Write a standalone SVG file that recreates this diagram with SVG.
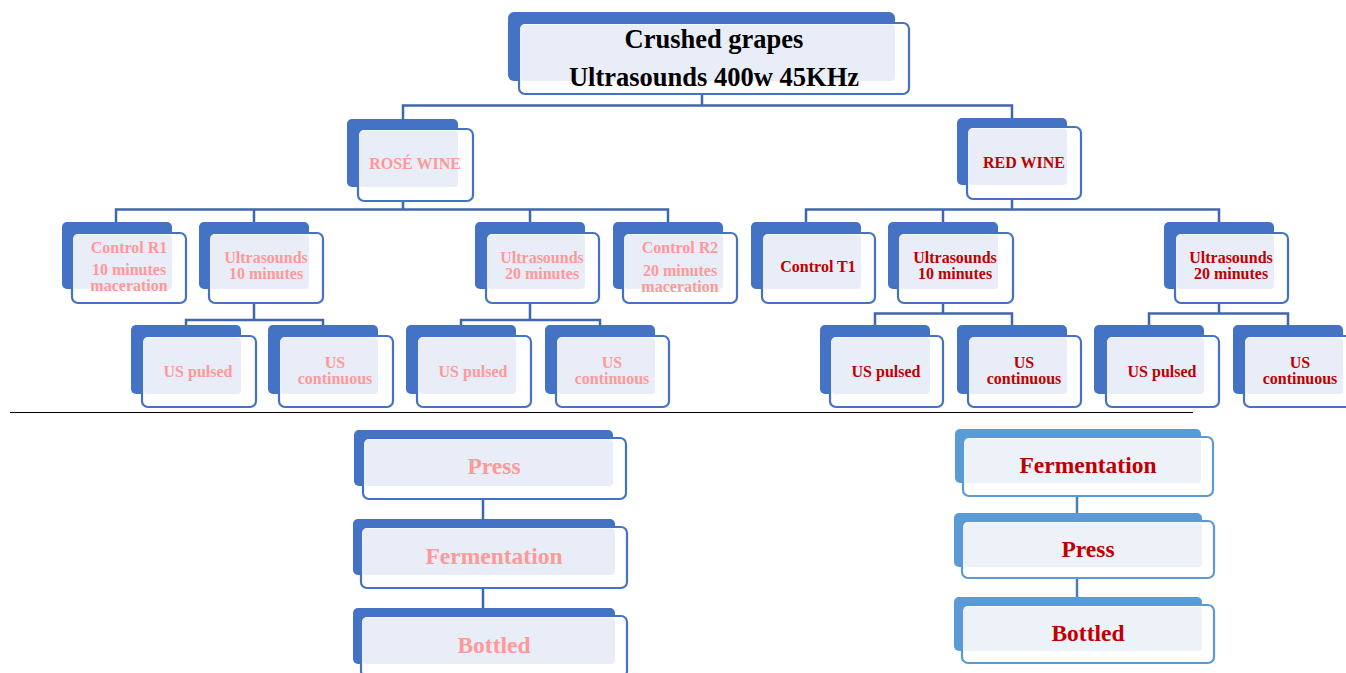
<svg xmlns="http://www.w3.org/2000/svg" width="1346" height="673" viewBox="0 0 1346 673">
<style>
.bk{fill:#4472C4}
.fr{fill:#fff;stroke:#4472C4;stroke-width:2.2}
.lt{fill:#E9EDF7}
.bk2{fill:#5B9BD5}
.fr2{fill:#fff;stroke:#5B9BD5;stroke-width:2.2}
.lt2{fill:#EDF2F9}
.t{font-family:"Liberation Serif","Times New Roman",serif;font-weight:bold;text-anchor:middle}
.s{font-size:16px}
.m{font-size:23.5px}
.l{font-size:26.5px;fill:#000}
.pk{fill:#FF9999}
.rd{fill:#C00000}
.conn path{fill:none;stroke:#3F67AE;stroke-width:2.5}
.conn path.c2{stroke:#4A7EB5}
.sep{stroke:#000;stroke-width:1}
</style>
<rect width="1346" height="673" fill="#fff"/>
<g class="conn" id="connectors">
<path d="M702 94V105.5M403 119V105.5H1012V118"/>
<path d="M403 201V209.5M116 222V209.5H668V222M254 209.5V222M530 209.5V222"/>
<path d="M1012 199V209.5M806 222V209.5H1219V222M943 209.5V222"/>
<path d="M254 303V320M186 325V320H323V325"/>
<path d="M530 303V320M461 325V320H600V325"/>
<path d="M943 303V313.5M875 325V313.5H1012V325"/>
<path d="M1219 303V313.5M1149 325V313.5H1288V325"/>
<path d="M483 499V519M483 588V608"/>
<path class="c2" d="M1077 496V513M1077 578V597"/>
</g>
<line class="sep" x1="10" y1="412.5" x2="1193" y2="412.5"/>
<g id="n-top">
<rect class="bk" x="508" y="12" width="387" height="69" rx="6"/>
<rect class="fr" x="519" y="23" width="390" height="71" rx="6"/>
<rect class="lt" x="520.5" y="24.5" width="374.5" height="56.5" rx="4"/>
<text class="t l" x="714" y="48">Crushed grapes</text>
<text class="t l" x="714" y="86">Ultrasounds 400w 45KHz</text>
</g>
<g id="n-rose">
<rect class="bk" x="347" y="119" width="111" height="68" rx="5"/>
<rect class="fr" x="358" y="129" width="115" height="72" rx="6"/>
<rect class="lt" x="359.5" y="130.5" width="98.5" height="56.5" rx="4"/>
<text class="t s pk" x="415" y="169">ROSÉ WINE</text>
</g>
<g id="n-red">
<rect class="bk" x="957" y="118" width="110" height="67" rx="5"/>
<rect class="fr" x="967" y="127" width="114" height="72" rx="6"/>
<rect class="lt" x="968.5" y="128.5" width="98.5" height="56.5" rx="4"/>
<text class="t s rd" x="1024" y="168">RED WINE</text>
</g>
<g id="n-cr1">
<rect class="bk" x="62" y="222" width="110" height="67" rx="5"/>
<rect class="fr" x="72" y="233" width="114" height="70" rx="6"/>
<rect class="lt" x="73.5" y="234.5" width="98.5" height="54.5" rx="4"/>
<text class="t s pk" x="129" y="253">Control R1</text>
<text class="t s pk" x="129" y="275">10 minutes</text>
<text class="t s pk" x="129" y="291">maceration</text>
</g>
<g id="n-u10r">
<rect class="bk" x="199" y="222" width="110" height="67" rx="5"/>
<rect class="fr" x="209" y="233" width="114" height="70" rx="6"/>
<rect class="lt" x="210.5" y="234.5" width="98.5" height="54.5" rx="4"/>
<text class="t s pk" x="266" y="263">Ultrasounds</text>
<text class="t s pk" x="266" y="279">10 minutes</text>
</g>
<g id="n-u20r">
<rect class="bk" x="475" y="222" width="110" height="67" rx="5"/>
<rect class="fr" x="486" y="233" width="113" height="70" rx="6"/>
<rect class="lt" x="487.5" y="234.5" width="97.5" height="54.5" rx="4"/>
<text class="t s pk" x="542" y="263">Ultrasounds</text>
<text class="t s pk" x="542" y="279">20 minutes</text>
</g>
<g id="n-cr2">
<rect class="bk" x="613" y="222" width="110" height="67" rx="5"/>
<rect class="fr" x="623" y="233" width="114" height="70" rx="6"/>
<rect class="lt" x="624.5" y="234.5" width="98.5" height="54.5" rx="4"/>
<text class="t s pk" x="680" y="253">Control R2</text>
<text class="t s pk" x="680" y="276">20 minutes</text>
<text class="t s pk" x="680" y="292">maceration</text>
</g>
<g id="n-ct1">
<rect class="bk" x="751" y="222" width="110" height="67" rx="5"/>
<rect class="fr" x="762" y="233" width="113" height="70" rx="6"/>
<rect class="lt" x="763.5" y="234.5" width="97.5" height="54.5" rx="4"/>
<text class="t s rd" x="818" y="272">Control T1</text>
</g>
<g id="n-u10t">
<rect class="bk" x="888" y="222" width="110" height="67" rx="5"/>
<rect class="fr" x="898" y="233" width="115" height="70" rx="6"/>
<rect class="lt" x="899.5" y="234.5" width="98.5" height="54.5" rx="4"/>
<text class="t s rd" x="955" y="263">Ultrasounds</text>
<text class="t s rd" x="955" y="279">10 minutes</text>
</g>
<g id="n-u20t">
<rect class="bk" x="1164" y="222" width="110" height="67" rx="5"/>
<rect class="fr" x="1175" y="233" width="113" height="70" rx="6"/>
<rect class="lt" x="1176.5" y="234.5" width="97.5" height="54.5" rx="4"/>
<text class="t s rd" x="1231" y="263">Ultrasounds</text>
<text class="t s rd" x="1231" y="279">20 minutes</text>
</g>
<g id="n-r1p">
<rect class="bk" x="131" y="325" width="110" height="69" rx="5"/>
<rect class="fr" x="142" y="336" width="114" height="71" rx="6"/>
<rect class="lt" x="143.5" y="337.5" width="97.5" height="56.5" rx="4"/>
<text class="t s pk" x="198" y="377">US pulsed</text>
</g>
<g id="n-r1c">
<rect class="bk" x="268" y="325" width="110" height="69" rx="5"/>
<rect class="fr" x="279" y="336" width="114" height="71" rx="6"/>
<rect class="lt" x="280.5" y="337.5" width="97.5" height="56.5" rx="4"/>
<text class="t s pk" x="335" y="368">US</text>
<text class="t s pk" x="335" y="384">continuous</text>
</g>
<g id="n-r2p">
<rect class="bk" x="406" y="325" width="110" height="69" rx="5"/>
<rect class="fr" x="417" y="336" width="114" height="71" rx="6"/>
<rect class="lt" x="418.5" y="337.5" width="97.5" height="56.5" rx="4"/>
<text class="t s pk" x="473" y="377">US pulsed</text>
</g>
<g id="n-r2c">
<rect class="bk" x="545" y="325" width="110" height="69" rx="5"/>
<rect class="fr" x="556" y="336" width="113" height="71" rx="6"/>
<rect class="lt" x="557.5" y="337.5" width="97.5" height="56.5" rx="4"/>
<text class="t s pk" x="612" y="368">US</text>
<text class="t s pk" x="612" y="384">continuous</text>
</g>
<g id="n-t1p">
<rect class="bk" x="820" y="325" width="110" height="69" rx="5"/>
<rect class="fr" x="830" y="336" width="113" height="71" rx="6"/>
<rect class="lt" x="831.5" y="337.5" width="98.5" height="56.5" rx="4"/>
<text class="t s rd" x="886" y="377">US pulsed</text>
</g>
<g id="n-t1c">
<rect class="bk" x="957" y="325" width="110" height="69" rx="5"/>
<rect class="fr" x="968" y="336" width="113" height="71" rx="6"/>
<rect class="lt" x="969.5" y="337.5" width="97.5" height="56.5" rx="4"/>
<text class="t s rd" x="1024" y="368">US</text>
<text class="t s rd" x="1024" y="384">continuous</text>
</g>
<g id="n-t2p">
<rect class="bk" x="1094" y="325" width="110" height="69" rx="5"/>
<rect class="fr" x="1106" y="336" width="113" height="71" rx="6"/>
<rect class="lt" x="1107.5" y="337.5" width="96.5" height="56.5" rx="4"/>
<text class="t s rd" x="1162" y="377">US pulsed</text>
</g>
<g id="n-t2c">
<rect class="bk" x="1233" y="325" width="110" height="69" rx="5"/>
<rect class="fr" x="1244" y="336" width="113" height="71" rx="6"/>
<rect class="lt" x="1245.5" y="337.5" width="97.5" height="56.5" rx="4"/>
<text class="t s rd" x="1300" y="368">US</text>
<text class="t s rd" x="1300" y="384">continuous</text>
</g>
<g id="n-rpress">
<rect class="bk" x="354" y="430" width="259" height="56" rx="5"/>
<rect class="fr" x="363" y="438" width="263" height="61" rx="6"/>
<rect class="lt" x="364.5" y="439.5" width="248.5" height="46.5" rx="4"/>
<text class="t m pk" x="494" y="474">Press</text>
</g>
<g id="n-rferm">
<rect class="bk" x="353" y="519" width="262" height="56" rx="5"/>
<rect class="fr" x="361" y="527" width="266" height="61" rx="6"/>
<rect class="lt" x="362.5" y="528.5" width="252.5" height="46.5" rx="4"/>
<text class="t m pk" x="494" y="564">Fermentation</text>
</g>
<g id="n-rbottled">
<rect class="bk" x="353" y="608" width="262" height="56" rx="5"/>
<rect class="fr" x="361" y="616" width="266" height="61" rx="6"/>
<rect class="lt" x="362.5" y="617.5" width="252.5" height="46.5" rx="4"/>
<text class="t m pk" x="494" y="653">Bottled</text>
</g>
<g id="n-tferm">
<rect class="bk2" x="955" y="429" width="246" height="54" rx="5"/>
<rect class="fr2" x="963" y="437" width="250" height="59" rx="6"/>
<rect class="lt2" x="964.5" y="438.5" width="236.5" height="44.5" rx="4"/>
<text class="t m rd" x="1088" y="473">Fermentation</text>
</g>
<g id="n-tpress">
<rect class="bk2" x="954" y="513" width="248" height="54" rx="5"/>
<rect class="fr2" x="962" y="521" width="252" height="57" rx="6"/>
<rect class="lt2" x="963.5" y="522.5" width="238.5" height="44.5" rx="4"/>
<text class="t m rd" x="1088" y="557">Press</text>
</g>
<g id="n-tbottled">
<rect class="bk2" x="954" y="597" width="248" height="54" rx="5"/>
<rect class="fr2" x="962" y="605" width="252" height="58" rx="6"/>
<rect class="lt2" x="963.5" y="606.5" width="238.5" height="44.5" rx="4"/>
<text class="t m rd" x="1088" y="641">Bottled</text>
</g>
</svg>
